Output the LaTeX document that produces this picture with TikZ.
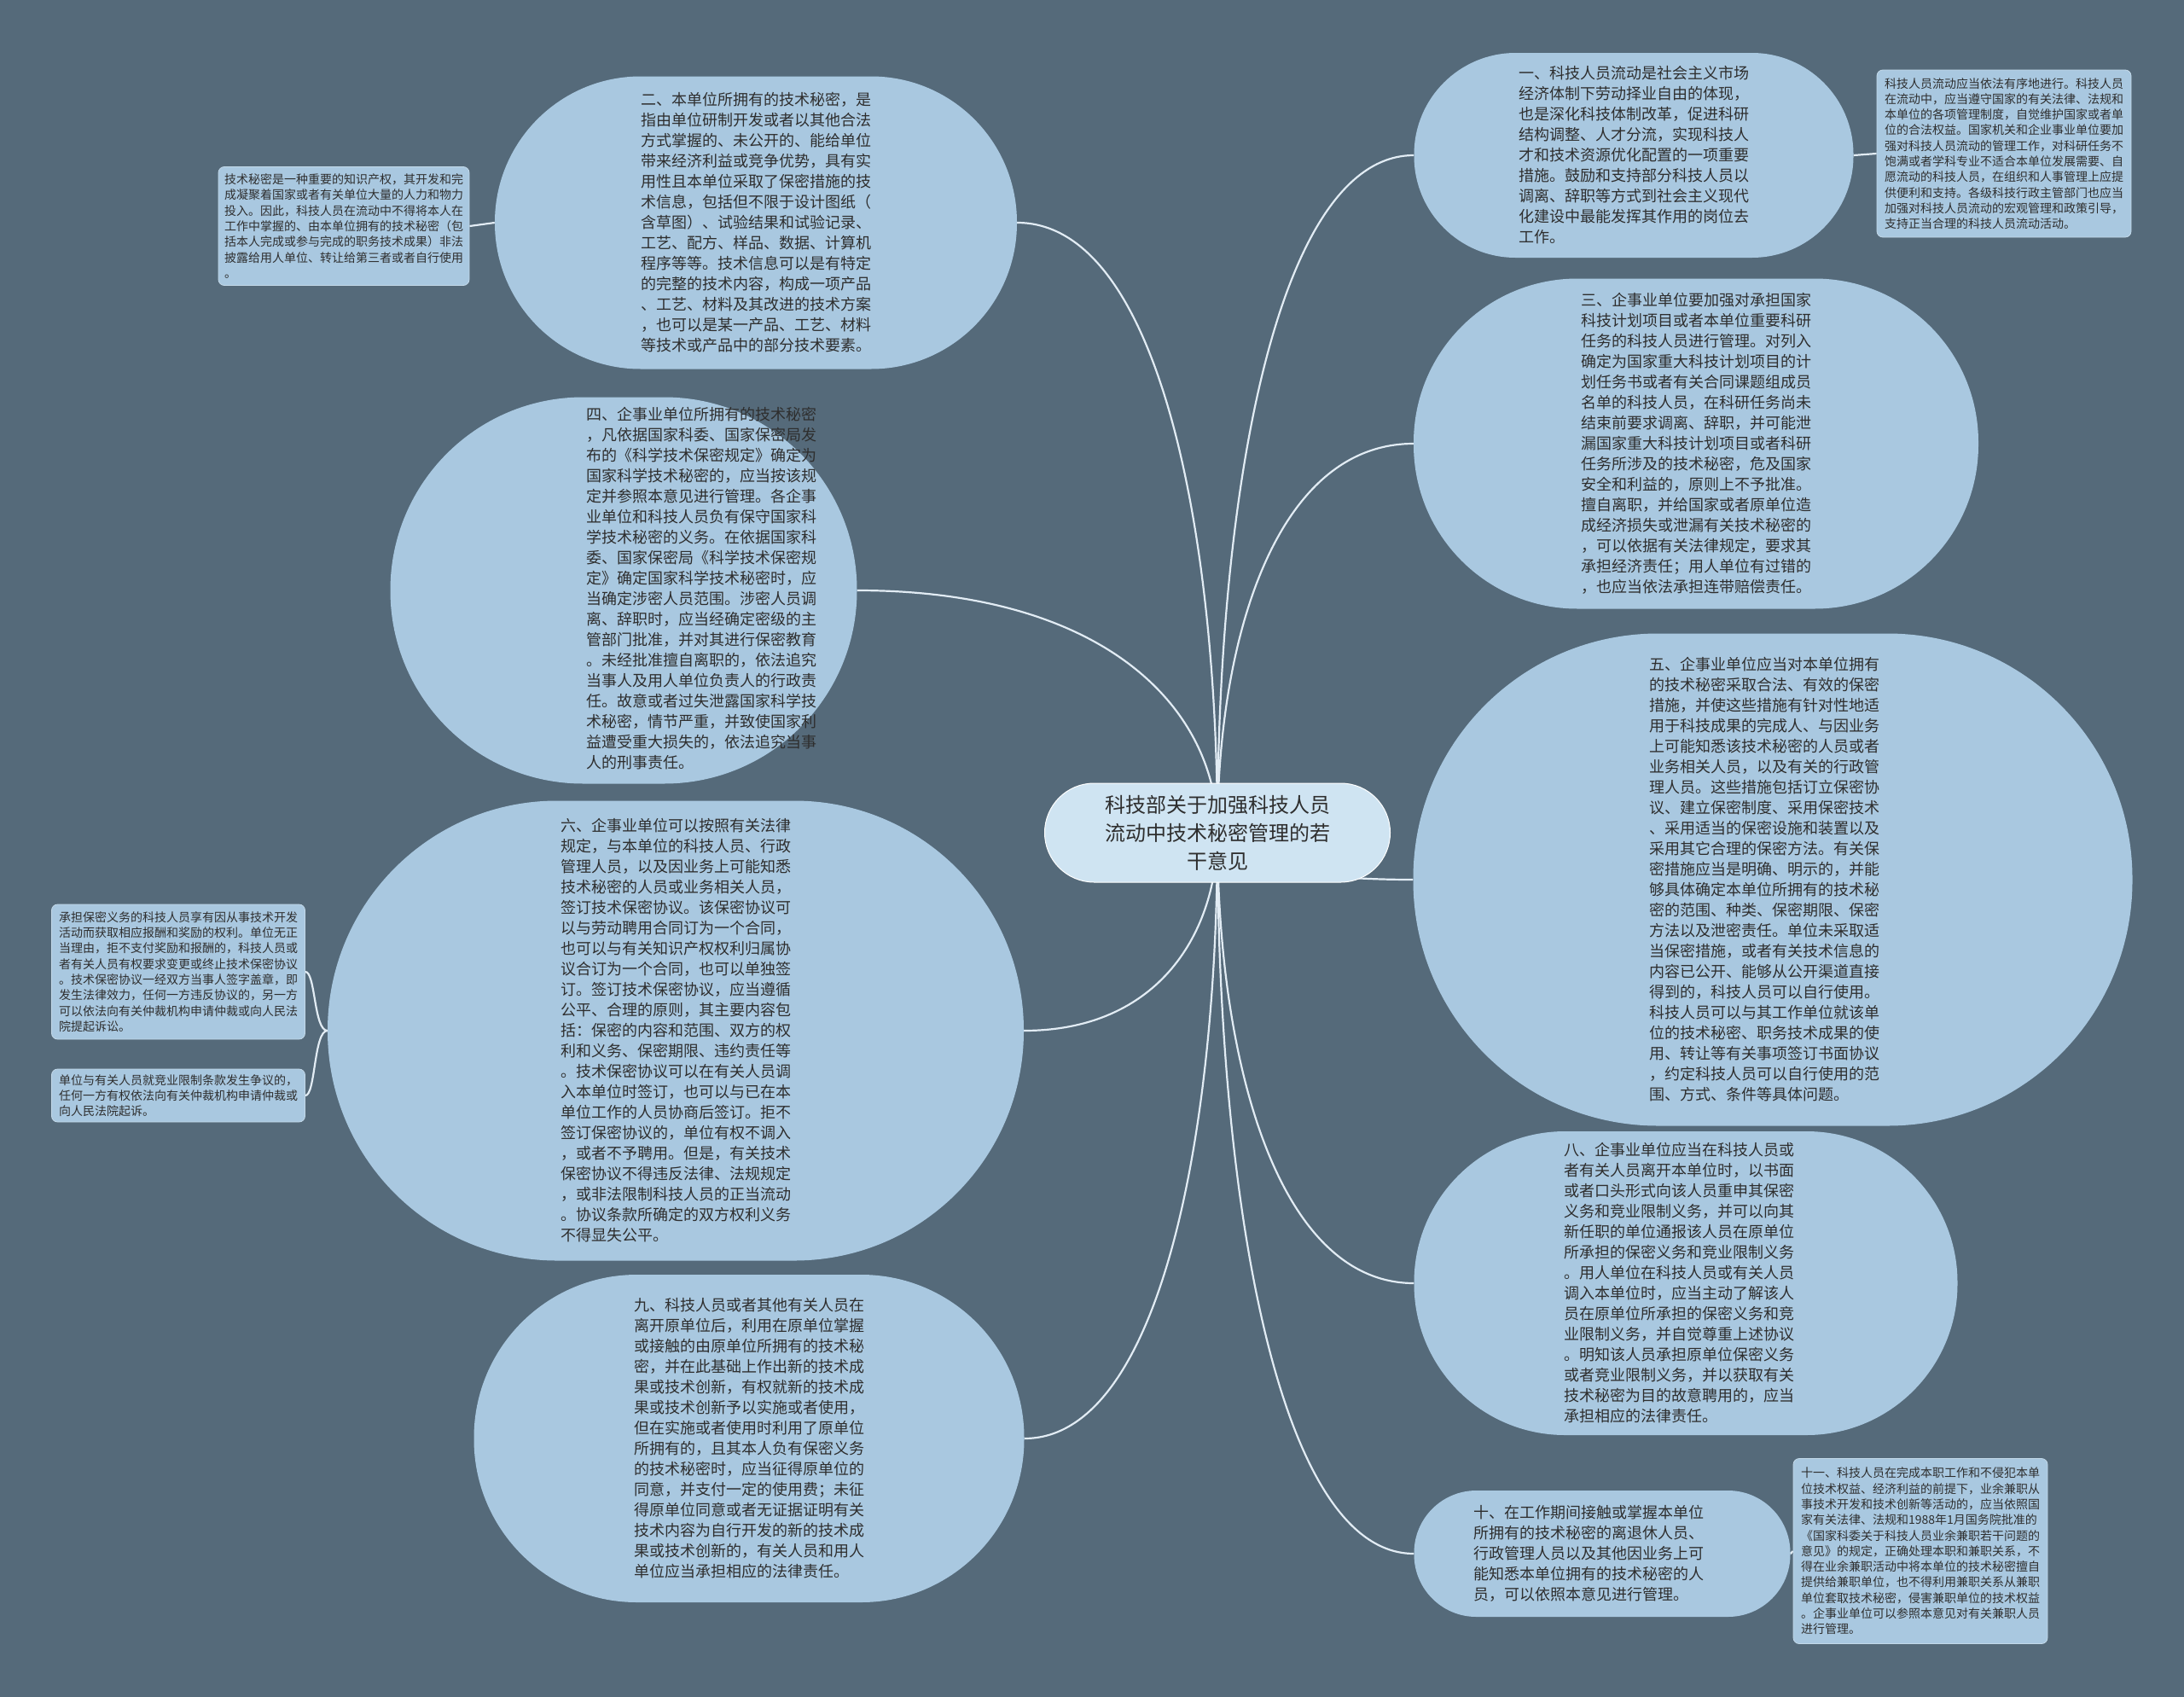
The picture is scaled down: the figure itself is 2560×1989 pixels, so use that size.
\documentclass[tikz,border=0pt]{standalone}
\usepackage{fontspec}
\newfontfamily\cjk{Noto Sans CJK SC}
\usetikzlibrary{calc}
\definecolor{bgc}{HTML}{556A7A}
\definecolor{nodec}{HTML}{A9C8E0}
\definecolor{rootc}{HTML}{CFE4F2}
\definecolor{linec}{HTML}{E2ECF4}
\definecolor{txtc}{HTML}{2E2E2E}
\pgfdeclarelayer{back}
\pgfsetlayers{back,main}
\begin{document}
\begin{tikzpicture}[x=1pt,y=-1pt,
  bignode/.style={fill=nodec, inner sep=0pt, align=left, text=txtc,
    font=\cjk\fontsize{18}{24}\selectfont},
  bigtext/.style={inner sep=0pt, align=left, text=txtc, font=\cjk\fontsize{18}{24}\selectfont},
  rootnode/.style={fill=rootc, draw=white, line width=1pt, inner sep=0pt, align=center, text=txtc,
    font=\cjk\fontsize{24}{33}\selectfont},
  smallbox/.style={fill=nodec, draw=nodec!70!white, line width=0.8pt, rounded corners=7pt, inner sep=0pt,
    align=left, text=txtc, font=\cjk\fontsize{14}{18.3}\selectfont, minimum width=297pt},
  conn/.style={draw=linec, line width=2.2pt}
]
\useasboundingbox (0,0) rectangle (2560,1989);

% root
\node[rootnode, minimum width=405pt, minimum height=116pt, rounded corners=58pt] (root) at (1427,976)
{科技部关于加强科技人员\\流动中技术秘密管理的若\\干意见};

% left side
\node[bignode, minimum width=612pt, minimum height=343pt, rounded corners=171pt] (n2) at (886,261)
{二、本单位所拥有的技术秘密，是\\指由单位研制开发或者以其他合法\\方式掌握的、未公开的、能给单位\\带来经济利益或竞争优势，具有实\\用性且本单位采取了保密措施的技\\术信息，包括但不限于设计图纸（\\含草图）、试验结果和试验记录、\\工艺、配方、样品、数据、计算机\\程序等等。技术信息可以是有特定\\的完整的技术内容，构成一项产品\\、工艺、材料及其改进的技术方案\\，也可以是某一产品、工艺、材料\\等技术或产品中的部分技术要素。};

\node[bignode, minimum width=547pt, minimum height=453pt, rounded corners=226pt] (n4) at (731,692) {};
\node[bigtext] (n4t) at (822,690)
{四、企事业单位所拥有的技术秘密\\，凡依据国家科委、国家保密局发\\布的《科学技术保密规定》确定为\\国家科学技术秘密的，应当按该规\\定并参照本意见进行管理。各企事\\业单位和科技人员负有保守国家科\\学技术秘密的义务。在依据国家科\\委、国家保密局《科学技术保密规\\定》确定国家科学技术秘密时，应\\当确定涉密人员范围。涉密人员调\\离、辞职时，应当经确定密级的主\\管部门批准，并对其进行保密教育\\。未经批准擅自离职的，依法追究\\当事人及用人单位负责人的行政责\\任。故意或者过失泄露国家科学技\\术秘密，情节严重，并致使国家利\\益遭受重大损失的，依法追究当事\\人的刑事责任。};

\node[bignode, minimum width=816pt, minimum height=539pt, rounded corners=269pt] (n6) at (792,1208)
{六、企事业单位可以按照有关法律\\规定，与本单位的科技人员、行政\\管理人员，以及因业务上可能知悉\\技术秘密的人员或业务相关人员，\\签订技术保密协议。该保密协议可\\以与劳动聘用合同订为一个合同，\\也可以与有关知识产权权利归属协\\议合订为一个合同，也可以单独签\\订。签订技术保密协议，应当遵循\\公平、合理的原则，其主要内容包\\括：保密的内容和范围、双方的权\\利和义务、保密期限、违约责任等\\。技术保密协议可以在有关人员调\\入本单位时签订，也可以与已在本\\单位工作的人员协商后签订。拒不\\签订保密协议的，单位有权不调入\\，或者不予聘用。但是，有关技术\\保密协议不得违反法律、法规规定\\，或非法限制科技人员的正当流动\\。协议条款所确定的双方权利义务\\不得显失公平。};

\node[bignode, minimum width=645pt, minimum height=384pt, rounded corners=191pt] (n9) at (878,1686)
{九、科技人员或者其他有关人员在\\离开原单位后，利用在原单位掌握\\或接触的由原单位所拥有的技术秘\\密，并在此基础上作出新的技术成\\果或技术创新，有权就新的技术成\\果或技术创新予以实施或者使用，\\但在实施或者使用时利用了原单位\\所拥有的，且其本人负有保密义务\\的技术秘密时，应当征得原单位的\\同意，并支付一定的使用费；未征\\得原单位同意或者无证据证明有关\\技术内容为自行开发的新的技术成\\果或技术创新的，有关人员和用人\\单位应当承担相应的法律责任。};

% right side
\node[bignode, minimum width=515pt, minimum height=240pt, rounded corners=119pt] (n1) at (1915,182)
{一、科技人员流动是社会主义市场\\经济体制下劳动择业自由的体现，\\也是深化科技体制改革，促进科研\\结构调整、人才分流，实现科技人\\才和技术资源优化配置的一项重要\\措施。鼓励和支持部分科技人员以\\调离、辞职等方式到社会主义现代\\化建设中最能发挥其作用的岗位去\\工作。};

\node[bignode, minimum width=662pt, minimum height=387pt, rounded corners=192pt] (n3) at (1988,520)
{三、企事业单位要加强对承担国家\\科技计划项目或者本单位重要科研\\任务的科技人员进行管理。对列入\\确定为国家重大科技计划项目的计\\划任务书或者有关合同课题组成员\\名单的科技人员，在科研任务尚未\\结束前要求调离、辞职，并可能泄\\漏国家重大科技计划项目或者科研\\任务所涉及的技术秘密，危及国家\\安全和利益的，原则上不予批准。\\擅自离职，并给国家或者原单位造\\成经济损失或泄漏有关技术秘密的\\，可以依据有关法律规定，要求其\\承担经济责任；用人单位有过错的\\，也应当依法承担连带赔偿责任。};

\node[bignode, minimum width=843pt, minimum height=577pt, rounded corners=287pt] (n5) at (2078,1031) {};
\node[bigtext] (n5t) at (2068,1031)
{五、企事业单位应当对本单位拥有\\的技术秘密采取合法、有效的保密\\措施，并使这些措施有针对性地适\\用于科技成果的完成人、与因业务\\上可能知悉该技术秘密的人员或者\\业务相关人员，以及有关的行政管\\理人员。这些措施包括订立保密协\\议、建立保密制度、采用保密技术\\、采用适当的保密设施和装置以及\\采用其它合理的保密方法。有关保\\密措施应当是明确、明示的，并能\\够具体确定本单位所拥有的技术秘\\密的范围、种类、保密期限、保密\\方法以及泄密责任。单位未采取适\\当保密措施，或者有关技术信息的\\内容已公开、能够从公开渠道直接\\得到的，科技人员可以自行使用。\\科技人员可以与其工作单位就该单\\位的技术秘密、职务技术成果的使\\用、转让等有关事项签订书面协议\\，约定科技人员可以自行使用的范\\围、方式、条件等具体问题。};

\node[bignode, minimum width=637pt, minimum height=356pt, rounded corners=177pt] (n8) at (1976,1504) {};
\node[bigtext] (n8t) at (1968,1504)
{八、企事业单位应当在科技人员或\\者有关人员离开本单位时，以书面\\或者口头形式向该人员重申其保密\\义务和竞业限制义务，并可以向其\\新任职的单位通报该人员在原单位\\所承担的保密义务和竞业限制义务\\。用人单位在科技人员或有关人员\\调入本单位时，应当主动了解该人\\员在原单位所承担的保密义务和竞\\业限制义务，并自觉尊重上述协议\\。明知该人员承担原单位保密义务\\或者竞业限制义务，并以获取有关\\技术秘密为目的故意聘用的，应当\\承担相应的法律责任。};

\node[bignode, minimum width=441pt, minimum height=148pt, rounded corners=73pt] (n10) at (1878,1821) {};
\node[bigtext] (n10t) at (1862,1821)
{十、在工作期间接触或掌握本单位\\所拥有的技术秘密的离退休人员、\\行政管理人员以及其他因业务上可\\能知悉本单位拥有的技术秘密的人\\员，可以依照本意见进行管理。};

% small boxes
\node[smallbox, minimum width=294pt, minimum height=139pt] (tl) at (403,265)
{技术秘密是一种重要的知识产权，其开发和完\\成凝聚着国家或者有关单位大量的人力和物力\\投入。因此，科技人员在流动中不得将本人在\\工作中掌握的、由本单位拥有的技术秘密（包\\括本人完成或参与完成的职务技术成果）非法\\披露给用人单位、转让给第三者或者自行使用\\。};

\node[smallbox, minimum width=298pt, minimum height=196pt] (tr) at (2349,180)
{科技人员流动应当依法有序地进行。科技人员\\在流动中，应当遵守国家的有关法律、法规和\\本单位的各项管理制度，自觉维护国家或者单\\位的合法权益。国家机关和企业事业单位要加\\强对科技人员流动的管理工作，对科研任务不\\饱满或者学科专业不适合本单位发展需要、自\\愿流动的科技人员，在组织和人事管理上应提\\供便利和支持。各级科技行政主管部门也应当\\加强对科技人员流动的宏观管理和政策引导，\\支持正当合理的科技人员流动活动。};

\node[smallbox, minimum height=158pt] (b1) at (209,1139)
{承担保密义务的科技人员享有因从事技术开发\\活动而获取相应报酬和奖励的权利。单位无正\\当理由，拒不支付奖励和报酬的，科技人员或\\者有关人员有权要求变更或终止技术保密协议\\。技术保密协议一经双方当事人签字盖章，即\\发生法律效力，任何一方违反协议的，另一方\\可以依法向有关仲裁机构申请仲裁或向人民法\\院提起诉讼。};

\node[smallbox, minimum height=62pt] (b2) at (209,1284)
{单位与有关人员就竞业限制条款发生争议的，\\任何一方有权依法向有关仲裁机构申请仲裁或\\向人民法院起诉。};

\node[smallbox, minimum width=298pt, minimum height=217pt] (br) at (2251,1818)
{十一、科技人员在完成本职工作和不侵犯本单\\位技术权益、经济利益的前提下，业余兼职从\\事技术开发和技术创新等活动的，应当依照国\\家有关法律、法规和1988年1月国务院批准的\\《国家科委关于科技人员业余兼职若干问题的\\意见》的规定，正确处理本职和兼职关系，不\\得在业余兼职活动中将本单位的技术秘密擅自\\提供给兼职单位，也不得利用兼职关系从兼职\\单位套取技术秘密，侵害兼职单位的技术权益\\。企事业单位可以参照本意见对有关兼职人员\\进行管理。};

\begin{pgfonlayer}{back}
\fill[bgc] (0,0) rectangle (2560,1989);
\foreach \t/\a in {n2/east,n4/east,n6/east,n9/east,n1/west,n3/west,n5/west,n8/west,n10/west}{
  \coordinate (k\t) at (root.center |- \t.\a);
  \draw[conn] (root.center) .. controls ($(root.center)!0.5!(k\t)$) and ($(\t.\a)!0.7!(k\t)$) .. (\t.\a);
}
\draw[conn] (tl.east) -- (n2.west);
\draw[conn] (n1.east) -- (tr.west);
\draw[conn] (n10.east) -- (br.west);
\draw[conn] (n6.west) .. controls +(-16,0) and +(12,0) .. (b1.east);
\draw[conn] (n6.west) .. controls +(-16,0) and +(12,0) .. (b2.east);
\end{pgfonlayer}
\end{tikzpicture}
\end{document}
